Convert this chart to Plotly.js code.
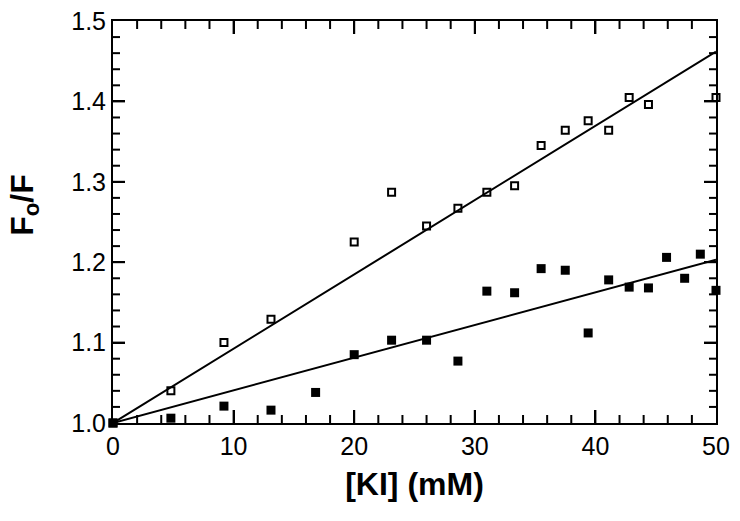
<!DOCTYPE html>
<html>
<head>
<meta charset="utf-8">
<script src="https://cdn.plot.ly/plotly-3.0.1.min.js"></script>
<style>html,body{margin:0;padding:0;background:#fff;}#chart{width:740px;height:521px;}</style>
</head>
<body>
<div id="chart"></div>
<script>
// KI concentration (mM) and Fo/F values
const kiOpen = [0, 4.8, 9.2, 13.1, 20.0, 23.1, 26.0, 28.6, 31.0, 33.3, 35.5, 37.5, 39.4, 41.1, 42.8, 44.4, 50.0];
const foOpen = [1.000, 1.040, 1.100, 1.129, 1.225, 1.287, 1.245, 1.267, 1.287, 1.295, 1.345, 1.364, 1.376, 1.364, 1.405, 1.396, 1.405];

const kiFilled = [0, 4.8, 9.2, 13.1, 16.8, 20.0, 23.1, 26.0, 28.6, 31.0, 33.3, 35.5, 37.5, 39.4, 41.1, 42.8, 44.4, 45.9, 47.4, 48.7, 50.0];
const foFilled = [1.000, 1.006, 1.021, 1.016, 1.038, 1.085, 1.103, 1.103, 1.077, 1.164, 1.162, 1.192, 1.190, 1.112, 1.178, 1.169, 1.168, 1.206, 1.180, 1.210, 1.165];

// Stern-Volmer fit lines
const fitX = [0, 50];
const fitOpen = [1.000, 1.462];
const fitFilled = [1.000, 1.203];

// axis tick positions (major and minor)
const xMajorTicks = [10, 20, 30, 40];
const xMinorTicks = [2, 4, 6, 8, 12, 14, 16, 18, 22, 24, 26, 28, 32, 34, 36, 38, 42, 44, 46, 48];
const yMajorTicks = [1.1, 1.2, 1.3, 1.4];
const yMinorTicks = [1.02, 1.04, 1.06, 1.08, 1.12, 1.14, 1.16, 1.18, 1.22, 1.24, 1.26, 1.28, 1.32, 1.34, 1.36, 1.38, 1.42, 1.44, 1.46, 1.48];

const xTitle = '[KI] (mM)';
const yTitle = 'F<sub>o</sub>/F';

const fontFam = 'Liberation Sans, Arial, sans-serif';

const traces = [
  {x: fitX, y: fitOpen, mode: 'lines', line: {color: '#000', width: 2}, hoverinfo: 'skip', showlegend: false},
  {x: fitX, y: fitFilled, mode: 'lines', line: {color: '#000', width: 2}, hoverinfo: 'skip', showlegend: false},
  {x: kiFilled, y: foFilled, mode: 'markers', cliponaxis: false, showlegend: false,
   marker: {symbol: 'square', size: 9, color: '#000', line: {width: 0}}},
  {x: kiOpen, y: foOpen, mode: 'markers', cliponaxis: false, showlegend: false,
   marker: {symbol: 'square-open', size: 7, color: '#000', line: {width: 2}}}
];

// inside tick marks on all four sides, anchored to the axis values
const tickLine = {color: '#000', width: 2};
const shapes = [];
function xTick(v, len) {
  shapes.push({type: 'line', xref: 'x', yref: 'paper', ysizemode: 'pixel', yanchor: 0, x0: v, x1: v, y0: 0, y1: len, line: tickLine});
  shapes.push({type: 'line', xref: 'x', yref: 'paper', ysizemode: 'pixel', yanchor: 1, x0: v, x1: v, y0: 0, y1: -len, line: tickLine});
}
function yTick(v, len) {
  shapes.push({type: 'line', xref: 'paper', yref: 'y', xsizemode: 'pixel', xanchor: 0, y0: v, y1: v, x0: 0, x1: len, line: tickLine});
  shapes.push({type: 'line', xref: 'paper', yref: 'y', xsizemode: 'pixel', xanchor: 1, y0: v, y1: v, x0: 0, x1: -len, line: tickLine});
}
xMajorTicks.forEach(v => xTick(v, 13));
xMinorTicks.forEach(v => xTick(v, 8));
yMajorTicks.forEach(v => yTick(v, 12));
yMinorTicks.forEach(v => yTick(v, 7));

const layout = {
  width: 740, height: 521,
  margin: {l: 113, r: 24, t: 21, b: 98},
  showlegend: false,
  xaxis: {
    range: [0, 50], dtick: 10,
    showline: true, linecolor: '#000', linewidth: 2, mirror: 'ticks',
    ticks: 'inside', ticklen: 13, tickwidth: 2, tickcolor: '#000',
    showgrid: false, zeroline: false,
    tickfont: {family: fontFam, size: 25, color: '#000'},
    title: {text: xTitle, standoff: 14, font: {family: fontFam, size: 32, color: '#000', weight: 'bold'}}
  },
  yaxis: {
    range: [1.0, 1.5], dtick: 0.1, tickformat: '.1f',
    showline: true, linecolor: '#000', linewidth: 2, mirror: 'ticks',
    ticks: 'inside', ticklen: 12, tickwidth: 2, tickcolor: '#000',
    showgrid: false, zeroline: false,
    tickfont: {family: fontFam, size: 25, color: '#000'}
  },
  shapes: shapes,
  annotations: [{
    text: yTitle, xref: 'paper', yref: 'paper', x: -0.148, y: 0.542,
    xanchor: 'center', yanchor: 'middle', textangle: -90, showarrow: false,
    font: {family: fontFam, size: 32, color: '#000', weight: 'bold'}
  }]
};

Plotly.newPlot('chart', traces, layout, {displayModeBar: false});
</script>
</body>
</html>
